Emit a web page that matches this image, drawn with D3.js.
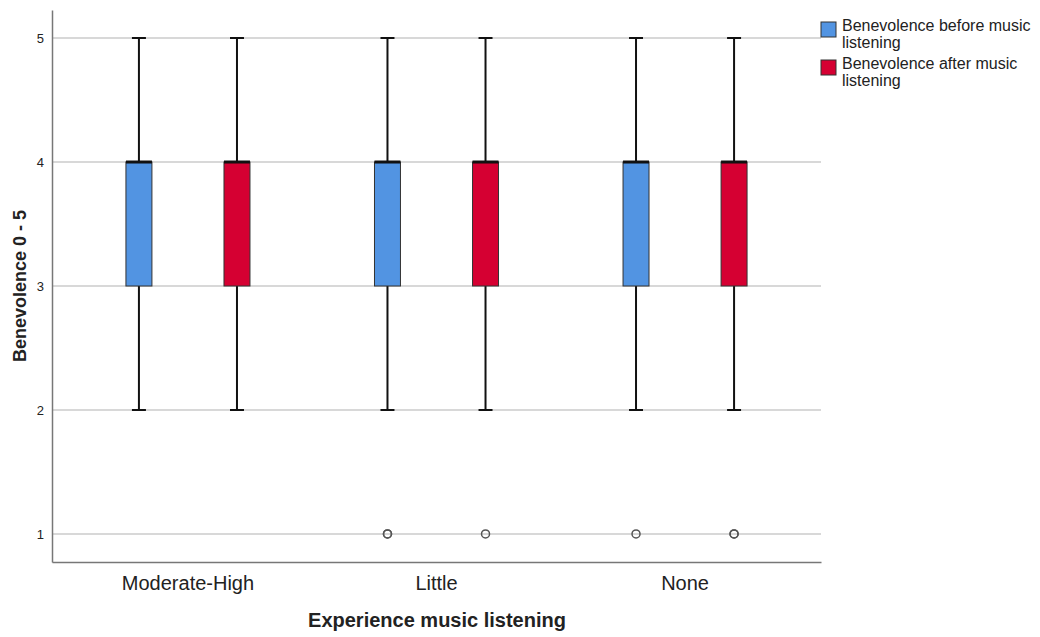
<!DOCTYPE html>
<html>
<head>
<meta charset="utf-8">
<script src="https://cdn.jsdelivr.net/npm/d3@7"></script>
<style>
  body { margin: 0; background: #fff; }
  text { font-family: "Liberation Sans", Arial, sans-serif; fill: #222; }
</style>
</head>
<body>
<div id="canvas"></div>
<script>
// categories and series
const groups = ["Moderate-High", "Little", "None"];
const series = ["Benevolence before music listening", "Benevolence after music listening"];
const seriesColors = ["#5294e2", "#d50032"];

// box stats per group, per series: [min, q1, median, q3, max]
const beforeStats = [[2, 3, 4, 4, 5], [2, 3, 4, 4, 5], [2, 3, 4, 4, 5]];
const afterStats = [[2, 3, 4, 4, 5], [2, 3, 4, 4, 5], [2, 3, 4, 4, 5]];
// outliers per group (repeated values overlap)
const beforeOutliers = [[], [1, 1], [1]];
const afterOutliers = [[], [1], [1, 1]];

const yTicks = [1, 2, 3, 4, 5];

const width = 1040, height = 637;
const margin = { left: 52, right: 219, top: 10, bottom: 75 };

const svg = d3.select("#canvas").append("svg")
  .attr("width", width)
  .attr("height", height);

const x = d3.scaleBand()
  .domain(groups)
  .range([margin.left, width - margin.right])
  .paddingInner(0)
  .paddingOuter(0.047);

const sub = d3.scaleBand()
  .domain(series)
  .range([0, x.bandwidth()])
  .paddingInner(0.735)
  .paddingOuter(0.635);

const y = d3.scaleLinear()
  .domain([0.774, 5.226])
  .range([height - margin.bottom, margin.top]);

// gridlines
svg.append("g")
  .selectAll("line")
  .data(yTicks)
  .join("line")
  .attr("x1", margin.left)
  .attr("x2", width - margin.right)
  .attr("y1", d => y(d))
  .attr("y2", d => y(d))
  .attr("stroke", "#cbcbcb")
  .attr("stroke-width", 1.5);

// y axis
const yAxis = svg.append("g")
  .attr("transform", `translate(${margin.left},0)`)
  .call(d3.axisLeft(y).tickValues(yTicks).tickSize(0).tickPadding(8).tickFormat(d3.format("d")));
yAxis.select(".domain").attr("stroke", "#777").attr("stroke-width", 1.5);
yAxis.selectAll("text").style("font-size", "13px").attr("fill", "#222");

// x axis
const xAxis = svg.append("g")
  .attr("transform", `translate(0,${height - margin.bottom})`)
  .call(d3.axisBottom(x).tickSize(0).tickPadding(14));
xAxis.select(".domain").attr("stroke", "#777").attr("stroke-width", 1.5);
xAxis.selectAll("text").style("font-size", "20px").attr("fill", "#333");

// axis titles
svg.append("text")
  .attr("x", 437)
  .attr("y", 627)
  .attr("text-anchor", "middle")
  .style("font-size", "20px")
  .style("font-weight", "bold")
  .attr("fill", "#000")
  .text("Experience music listening");

svg.append("text")
  .attr("transform", `translate(26,${y(3)}) rotate(-90)`)
  .attr("text-anchor", "middle")
  .style("font-size", "18px")
  .style("font-weight", "bold")
  .attr("fill", "#000")
  .text("Benevolence 0 - 5");

// boxes
const allStats = [beforeStats, afterStats];
const allOutliers = [beforeOutliers, afterOutliers];
const boxes = [];
groups.forEach((g, gi) => {
  series.forEach((s, si) => {
    boxes.push({ g, s, si, stats: allStats[si][gi], out: allOutliers[si][gi] });
  });
});

const bw = sub.bandwidth();
const capW = 14;

const box = svg.append("g").selectAll("g")
  .data(boxes)
  .join("g")
  .attr("transform", d => `translate(${x(d.g) + sub(d.s)},0)`);

// whiskers
box.append("line")
  .attr("x1", bw / 2).attr("x2", bw / 2)
  .attr("y1", d => y(d.stats[0])).attr("y2", d => y(d.stats[4]))
  .attr("stroke", "#111").attr("stroke-width", 2);

box.selectAll(".cap")
  .data(d => [d.stats[0], d.stats[4]])
  .join("line")
  .attr("class", "cap")
  .attr("x1", bw / 2 - capW / 2).attr("x2", bw / 2 + capW / 2)
  .attr("y1", v => y(v)).attr("y2", v => y(v))
  .attr("stroke", "#111").attr("stroke-width", 2);

box.append("rect")
  .attr("x", 0)
  .attr("width", bw)
  .attr("y", d => y(d.stats[3]))
  .attr("height", d => y(d.stats[1]) - y(d.stats[3]))
  .attr("fill", d => seriesColors[d.si])
  .attr("stroke", "#333")
  .attr("stroke-width", 1);

// median
box.append("line")
  .attr("x1", 0).attr("x2", bw)
  .attr("y1", d => y(d.stats[2])).attr("y2", d => y(d.stats[2]))
  .attr("stroke", "#111").attr("stroke-width", 3);

// outliers
box.selectAll(".out")
  .data(d => d.out)
  .join("circle")
  .attr("class", "out")
  .attr("cx", bw / 2)
  .attr("cy", v => y(v))
  .attr("r", 4)
  .attr("fill", "none")
  .attr("stroke", "#555")
  .attr("stroke-width", 1.5);

// legend
const legend = svg.append("g").attr("transform", "translate(821,22)");
const legendLines = [["Benevolence before music", "listening"], ["Benevolence after music", "listening"]];
const li = legend.selectAll("g")
  .data(series)
  .join("g")
  .attr("transform", (d, i) => `translate(0,${i * 38})`);
li.append("rect")
  .attr("width", 15).attr("height", 15)
  .attr("fill", (d, i) => seriesColors[i])
  .attr("stroke", "#333");
li.append("text")
  .attr("x", 21)
  .attr("y", 8.5)
  .style("font-size", "16px")
  .attr("fill", "#222")
  .selectAll("tspan")
  .data((d, i) => legendLines[i])
  .join("tspan")
  .attr("x", 21)
  .attr("dy", (t, j) => j === 0 ? 0 : 17)
  .text(t => t);
</script>
</body>
</html>
